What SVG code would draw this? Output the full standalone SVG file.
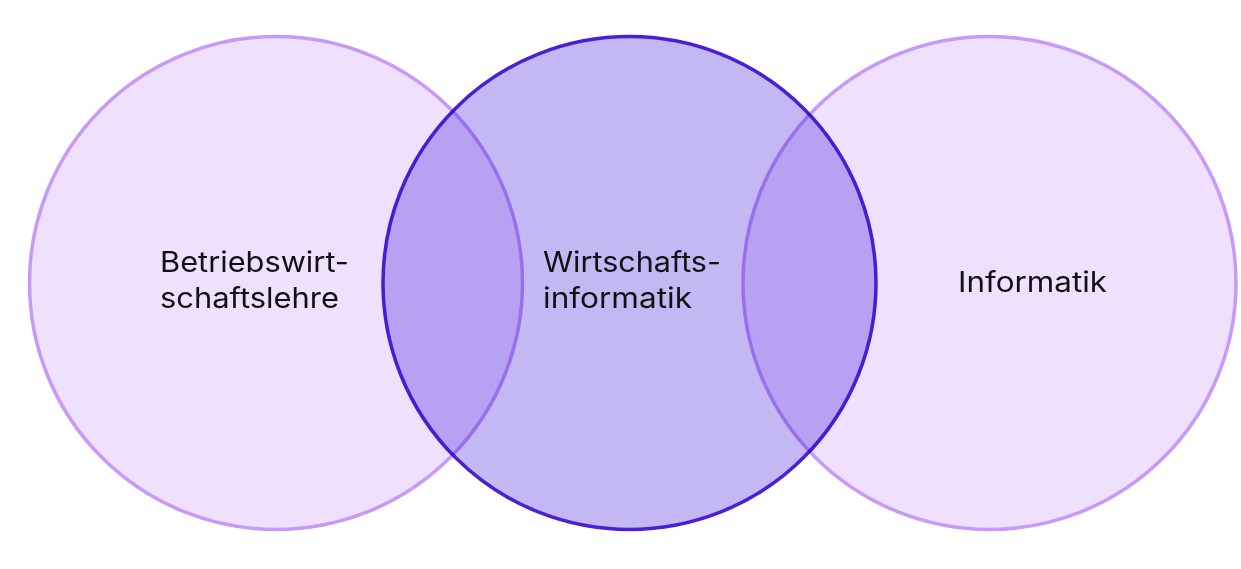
<svg xmlns="http://www.w3.org/2000/svg" width="1241" height="569" viewBox="0 0 1241 569">
  <style>
    .outer { fill: #efe0fd; stroke: #c89af8; stroke-width: 3.5; }
    .center { fill: #c4b8f4; stroke: #4b1fd8; stroke-width: 3.5; mix-blend-mode: multiply; }
    .label { font-family: Inter, "Liberation Sans", sans-serif; font-size: 28px; fill: #111111; }
  </style>
  <rect width="1241" height="569" fill="#ffffff"/>
  <g id="bwl">
    <circle class="outer" cx="276" cy="283" r="246.5"/>
  </g>
  <g id="informatik">
    <circle class="outer" cx="989.5" cy="283" r="246.5"/>
  </g>
  <g id="wirtschaftsinformatik">
    <circle class="center" cx="629.5" cy="283" r="246.5"/>
  </g>
  <g id="connectors"></g>
  <g id="labels">
    <text class="label" x="160" y="272" textLength="189" lengthAdjust="spacingAndGlyphs">Betriebswirt-</text>
    <text class="label" x="160" y="308" textLength="179" lengthAdjust="spacingAndGlyphs">schaftslehre</text>
    <text class="label" x="543" y="272" textLength="178" lengthAdjust="spacingAndGlyphs">Wirtschafts-</text>
    <text class="label" x="543" y="308" textLength="149" lengthAdjust="spacingAndGlyphs">informatik</text>
    <text class="label" x="958" y="292" textLength="149" lengthAdjust="spacingAndGlyphs">Informatik</text>
  </g>
</svg>
